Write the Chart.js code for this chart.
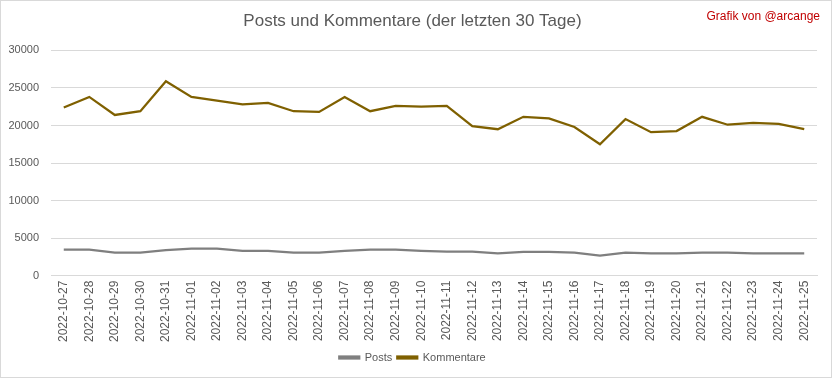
<!DOCTYPE html>
<html>
<head>
<meta charset="utf-8">
<script src="https://cdn.jsdelivr.net/npm/chart.js@4"></script>
<style>
  html, body { margin: 0; padding: 0; background: #fff; }
  #wrap { position: relative; width: 830px; height: 376px; border: 1px solid #d9d9d9; }
  #credit { position: absolute; right: 11px; top: 8px; font: 12px "Liberation Sans", sans-serif; color: #c00000; }
</style>
</head>
<body>
<div id="wrap">
  <canvas id="postsChart" width="830" height="376"></canvas>
  <div id="credit">Grafik von @arcange</div>
</div>
<script>
// values
const days = [
  "2022-10-27", "2022-10-28", "2022-10-29", "2022-10-30", "2022-10-31",
  "2022-11-01", "2022-11-02", "2022-11-03", "2022-11-04", "2022-11-05",
  "2022-11-06", "2022-11-07", "2022-11-08", "2022-11-09", "2022-11-10",
  "2022-11-11", "2022-11-12", "2022-11-13", "2022-11-14", "2022-11-15",
  "2022-11-16", "2022-11-17", "2022-11-18", "2022-11-19", "2022-11-20",
  "2022-11-21", "2022-11-22", "2022-11-23", "2022-11-24", "2022-11-25"
];

const posts = [
  3450, 3450, 3050, 3050, 3400, 3600, 3600, 3300, 3300, 3050,
  3050, 3300, 3450, 3450, 3300, 3200, 3200, 2950, 3150, 3150,
  3050, 2650, 3050, 2950, 2950, 3050, 3050, 2950, 2950, 2950
];

const kommentare = [
  22400, 23800, 21400, 21900, 25900, 23800, 23300, 22800, 23000, 21900,
  21800, 23800, 21900, 22600, 22500, 22600, 19900, 19500, 21150, 20950,
  19800, 17500, 20850, 19100, 19250, 21150, 20100, 20350, 20200, 19500
];

const yTicks = [0, 5000, 10000, 15000, 20000, 25000, 30000];

const textColor = "#595959";
const fontFamily = "'Liberation Sans', sans-serif";

const ctx = document.getElementById("postsChart");

new Chart(ctx, {

    type: "line",

    data: {
        labels: days,
        datasets: [
            {
                label: "Posts",
                data: posts,
                borderColor: "#7f7f7f",
                backgroundColor: "#7f7f7f",
                borderWidth: 2.25,
                pointRadius: 0,
                tension: 0
            },
            {
                label: "Kommentare",
                data: kommentare,
                borderColor: "#7f6000",
                backgroundColor: "#7f6000",
                borderWidth: 2.25,
                pointRadius: 0,
                tension: 0
            }
        ]
    },

    options: {
        responsive: false,
        animation: false,
        layout: {
            padding: { top: 8, right: 14, bottom: 4, left: 7 }
        },
        plugins: {
            title: {
                display: true,
                text: "Posts und Kommentare (der letzten 30 Tage)",
                color: textColor,
                font: { family: fontFamily, size: 17, weight: "normal" },
                padding: { top: 2, bottom: 19 }
            },
            legend: {
                position: "bottom",
                labels: {
                    color: textColor,
                    font: { family: fontFamily, size: 11 },
                    boxWidth: 20,
                    boxHeight: 2,
                    padding: 5
                }
            },
            tooltip: { enabled: false }
        },
        scales: {
            x: {
                offset: true,
                grid: { display: false, drawTicks: false },
                border: { color: "#d9d9d9" },
                ticks: {
                    color: textColor,
                    font: { family: fontFamily, size: 12 },
                    minRotation: 90,
                    maxRotation: 90,
                    autoSkip: false,
                    padding: 5
                },
                // don't let the rotated first/last label push the plot inwards
                afterFit: scale => {
                    scale.paddingLeft = 0;
                    scale.paddingRight = 0;
                }
            },
            y: {
                min: 0,
                max: 30000,
                afterBuildTicks: axis => {
                    axis.ticks = yTicks.map(v => ({ value: v }));
                },
                afterFit: scale => {
                    scale.width = 43;
                },
                grid: { color: "#d9d9d9", drawTicks: false },
                border: { display: false },
                ticks: {
                    color: textColor,
                    font: { family: fontFamily, size: 11 },
                    padding: 12,
                    callback: v => String(v)
                }
            }
        }
    }

});
</script>
</body>
</html>
